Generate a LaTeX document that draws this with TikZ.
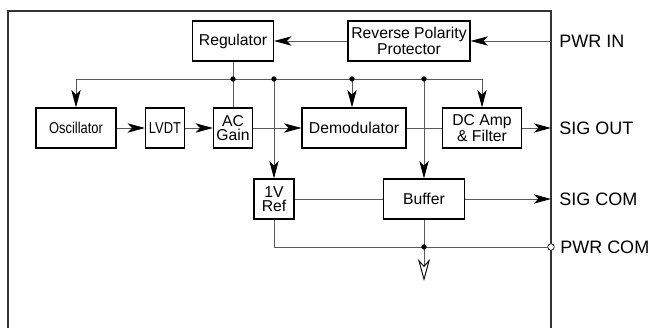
\documentclass[tikz,border=0pt]{standalone}
\usepackage{fontspec}
\setmainfont{Liberation Sans}
\newfontfamily\narrowfont[FakeStretch=0.82]{Liberation Sans}
\usetikzlibrary{arrows.meta,calc,positioning}
\definecolor{wiregray}{gray}{0.35}

\begin{document}
\begin{tikzpicture}[
		x=0.75pt, y=-0.75pt,
		block/.style={draw, line width=0.9pt, minimum height=30pt, inner sep=1pt, align=center, font=\fontsize{11.8}{10.5}\selectfont},
		wire/.style={draw=wiregray, line width=0.7pt},
		arr/.style={wire, -{Stealth[length=13pt, width=7pt, inset=3.5pt, black]}},
		openarr/.style={wire, -{Stealth[open, length=16.5pt, width=9pt, inset=5pt, black, fill=white]}},
		dot/.style={circle, fill=black, inner sep=0pt, minimum size=4pt},
		port/.style={circle, draw=black, fill=white, line width=0.5pt, inner sep=0pt, minimum size=5pt},
		pin/.style={anchor=west, inner sep=0pt, font=\fontsize{13.5}{14}\selectfont}
		]
	
		\useasboundingbox (0,0) rectangle (650,328);
	
		% --- Cadre ---
		\draw[line width=1.1pt, black!80] (8,330) -- (8,11) -- (551,11) -- (551,330);
	
		% --- Blocs ---
		\node[block, minimum width=60.75pt] (reg) at (233,41) {Regulator};
		\node[block, minimum width=91.5pt] (rpp) at (409,41) {Reverse Polarity\\Protector};
		\node[block, minimum width=60pt] (osc) at (76,128) {\narrowfont Oscillator};
		\node[block, minimum width=29.25pt] (lvdt) at (165,128) {\narrowfont LVDT};
		\node[block, minimum width=29.25pt] (acgain) at (233,128) {AC\\Gain};
		\node[block, minimum width=78pt] (demod) at (354,128) {Demodulator};
		\node[block, minimum width=59.25pt] (dcamp) at (482,128) {DC Amp\\\& Filter};
		\node[block, minimum width=30pt] (ref) at (274,199) {1V\\Ref};
		\node[block, minimum width=60.75pt] (buffer) at (424,199) {Buffer};
	
		% --- Points du bus et bornes ---
		\coordinate (busL) at (76,79);
		\coordinate (busR) at (482,79);
		\coordinate (j1) at (233,79);
		\coordinate (j2) at (274,79);
		\coordinate (j3) at (352,79);
		\coordinate (j4) at (424,79);
		\coordinate (j5) at (424,247);
		\coordinate (gnd) at (424,281);
		\coordinate (pwrin) at (551,41);
		\coordinate (sigout) at (551,128);
		\coordinate (sigcom) at (551,199);
		\coordinate (pwrcom) at (551,247);
	
		% Alimentation
		\draw[arr] (pwrin) -- (rpp);
		\draw[arr] (rpp) -- (reg);
		\draw[wire] (reg) -- (acgain);
		\draw[wire] (busL) -- (busR);
		\draw[arr] (busL) -- (osc);
		\draw[arr] (busR) -- (dcamp);
		\draw[arr] (j2) -- (ref);
		\draw[arr] (j3) -- (j3 |- demod.north);
		\draw[arr] (j4) -- (buffer);
	
		% Chaine du signal
		\draw[arr] (osc) -- (lvdt);
		\draw[arr] (lvdt) -- (acgain);
		\draw[arr] (acgain) -- (demod);
		\draw[wire] (demod) -- (dcamp);
		\draw[arr] (dcamp) -- (sigout);
		\draw[wire] (ref) -- (buffer);
		\draw[arr] (buffer) -- (sigcom);
	
		% Masse
		\draw[wire] (ref) |- (pwrcom);
		\draw[wire] (buffer) -- (j5);
		\draw[openarr] (j5) -- (gnd);
	
		\foreach \j in {j1,j2,j3,j4,j5}
			\node[dot] at (\j) {};
		\node[port] at (pwrcom) {};
	
		% Bornes
		\node[pin] at (559,41) {PWR IN};
		\node[pin] at (559,128) {SIG OUT};
		\node[pin] at (559,199) {SIG COM};
		\node[pin] at (560,247) {PWR COM};
	
	\end{tikzpicture}
\end{document}
